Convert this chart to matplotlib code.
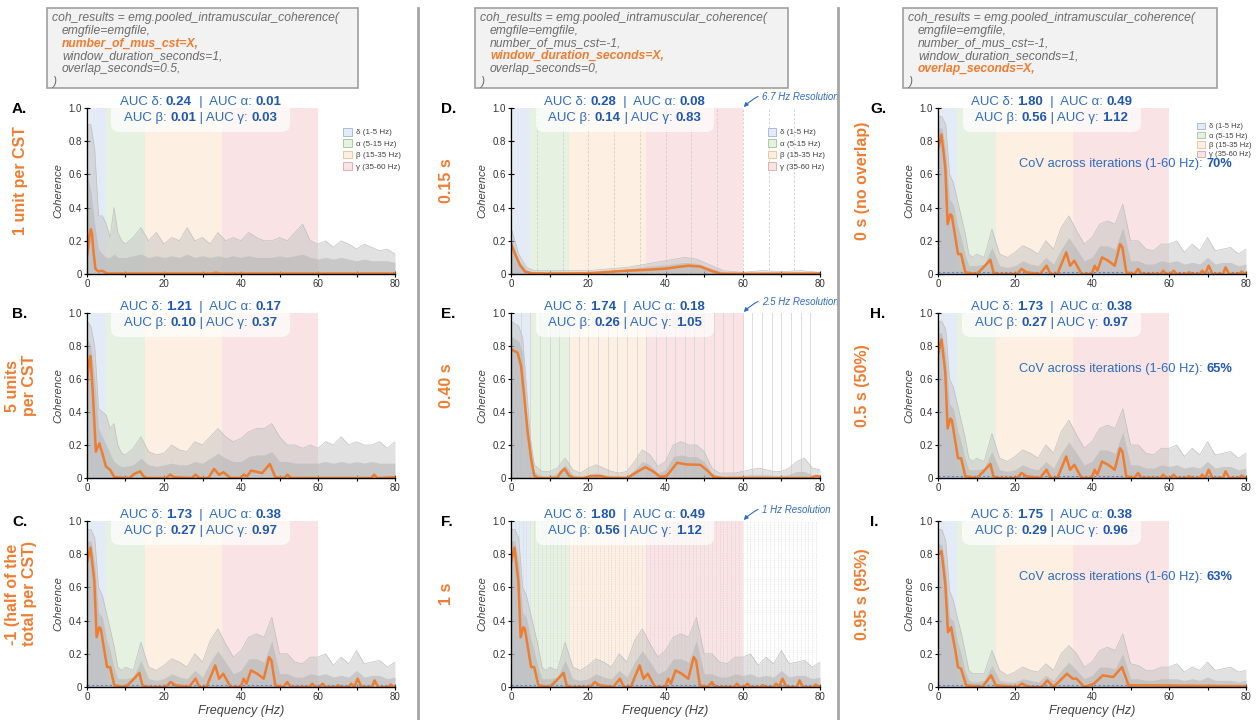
import numpy as np
import matplotlib.pyplot as plt
from matplotlib.patches import Rectangle, Patch
from matplotlib.offsetbox import TextArea, HPacker, VPacker, AnnotationBbox

plt.rcParams['font.family'] = ['Liberation Sans', 'DejaVu Sans']

# ---------------- data ----------------
band_spans = [(0.5, 5), (5, 15), (15, 35), (35, 60)]
band_labels = ['δ (1-5 Hz)', 'α (5-15 Hz)', 'β (15-35 Hz)', 'γ (35-60 Hz)']

# gray bundle grid (1 Hz up to 10, then 2 Hz)
grid_f = [0, 1, 2, 3, 4, 5, 6, 7, 8, 9, 10, 12, 14, 16, 18, 20, 22, 24, 26, 28, 30,
          32, 34, 36, 38, 40, 42, 44, 46, 48, 50, 52, 54, 56, 58, 60, 62, 64, 66, 68,
          70, 72, 74, 76, 78, 80]

# A: 1 unit per CST
A_hi = [0.90, 0.90, 0.75, 0.35, 0.35, 0.30, 0.22, 0.40, 0.25, 0.20, 0.18,
        0.22, 0.28, 0.20, 0.25, 0.18, 0.22, 0.20, 0.28, 0.20, 0.22,
        0.18, 0.25, 0.20, 0.22, 0.20, 0.25, 0.22, 0.20, 0.20, 0.22,
        0.20, 0.25, 0.30, 0.20, 0.18, 0.20, 0.16, 0.20, 0.18, 0.15,
        0.18, 0.16, 0.14, 0.15, 0.12]
A_core = [0.60, 0.50, 0.30, 0.15, 0.12, 0.10, 0.10, 0.12, 0.10, 0.10, 0.10,
          0.11, 0.12, 0.10, 0.11, 0.10, 0.11, 0.10, 0.12, 0.10, 0.11,
          0.10, 0.11, 0.10, 0.11, 0.10, 0.11, 0.10, 0.10, 0.10, 0.11,
          0.10, 0.11, 0.12, 0.10, 0.09, 0.10, 0.09, 0.10, 0.09, 0.08,
          0.09, 0.08, 0.08, 0.08, 0.07]
A_f = [0, 0.3, 0.7, 1.0, 1.3, 1.7, 2.2, 3.0, 3.9, 5.2, 32.5, 33.5, 34.5, 80]
A_mean = [0.11, 0.15, 0.24, 0.27, 0.24, 0.13, 0.03, 0.015, 0.02, 0.003, 0.003, 0.008, 0.003, 0.003]

# B: 5 units per CST
B_hi = [0.95, 0.92, 0.80, 0.42, 0.40, 0.38, 0.30, 0.33, 0.20, 0.15, 0.14,
        0.18, 0.25, 0.16, 0.14, 0.15, 0.20, 0.17, 0.16, 0.22, 0.20,
        0.25, 0.30, 0.25, 0.22, 0.24, 0.28, 0.30, 0.30, 0.33, 0.25,
        0.20, 0.20, 0.18, 0.20, 0.18, 0.22, 0.20, 0.25, 0.20, 0.22,
        0.20, 0.20, 0.22, 0.18, 0.22]
B_core = [0.85, 0.80, 0.60, 0.30, 0.25, 0.20, 0.15, 0.10, 0.08, 0.07, 0.07,
          0.08, 0.12, 0.08, 0.07, 0.08, 0.09, 0.08, 0.08, 0.10, 0.09,
          0.12, 0.15, 0.12, 0.10, 0.10, 0.13, 0.14, 0.14, 0.16, 0.10,
          0.10, 0.09, 0.09, 0.09, 0.09, 0.10, 0.09, 0.10, 0.09, 0.10,
          0.09, 0.10, 0.09, 0.09, 0.09]
B_f = [0, 0.5, 0.9, 1.5, 2.3, 3.2, 4.1, 4.9, 6.0, 7.1,
       11.0, 12.3, 13.8, 14.7, 15.5, 20.5, 21.6, 22.6, 27.2, 28.2,
       29.2, 31.5, 33.0, 34.3, 35.4, 37.3, 39.8, 40.7, 41.6, 42.6,
       45.5, 47.5, 48.9, 51.2, 52.1, 53.0, 73.8, 74.6, 75.4, 80]
B_mean = [0.58, 0.70, 0.74, 0.52, 0.16, 0.21, 0.14, 0.07, 0.05, 0.005,
          0.0, 0.025, 0.04, 0.01, 0.0, 0.0, 0.02, 0.005, 0.0, 0.02,
          0.0, 0.0, 0.055, 0.02, 0.035, 0.0, 0.0, 0.02, 0.01, 0.045,
          0.03, 0.085, 0.005, 0.0, 0.02, 0.0, 0.0, 0.02, 0.0, 0.005]

# 1 s window (C, F, G, H)
W1_hi = [0.95, 0.95, 0.90, 0.60, 0.55, 0.45, 0.35, 0.25, 0.12, 0.10, 0.12,
         0.10, 0.27, 0.12, 0.10, 0.13, 0.17, 0.15, 0.12, 0.20, 0.15,
         0.28, 0.35, 0.26, 0.18, 0.22, 0.30, 0.32, 0.30, 0.42, 0.20,
         0.20, 0.15, 0.14, 0.18, 0.18, 0.20, 0.13, 0.18, 0.14, 0.22,
         0.14, 0.15, 0.16, 0.12, 0.15]
W1_core = [0.88, 0.88, 0.75, 0.45, 0.42, 0.30, 0.22, 0.12, 0.05, 0.05, 0.05,
           0.06, 0.16, 0.05, 0.04, 0.05, 0.08, 0.06, 0.05, 0.10, 0.06,
           0.15, 0.22, 0.15, 0.08, 0.10, 0.17, 0.17, 0.15, 0.28, 0.08,
           0.08, 0.06, 0.06, 0.08, 0.07, 0.08, 0.06, 0.07, 0.06, 0.10,
           0.06, 0.07, 0.07, 0.05, 0.06]
W1_f = [0, 0.9, 1.9, 2.5, 3.2, 3.6, 4.5, 5.2, 6.0, 7.1,
        10.1, 11.8, 13.6, 14.4, 15.5, 20.5, 21.7, 23.0, 26.5, 28.2,
        29.2, 31.0, 33.3, 34.3, 35.4, 37.3, 39.9, 40.7, 41.4, 42.6,
        44.2, 45.9, 47.3, 47.9, 48.9, 51.0, 52.0, 52.9, 57.8, 58.5,
        59.2, 60.5, 61.2, 62.0, 64.5, 65.2, 66.0, 68.0, 68.6, 69.4,
        70.3, 71.3, 74.0, 74.7, 75.6, 78.3, 78.9, 79.6, 80]
W1_mean = [0.75, 0.84, 0.64, 0.30, 0.36, 0.35, 0.22, 0.12, 0.12, 0.01,
           0.0, 0.04, 0.085, 0.01, 0.0, 0.0, 0.03, 0.01, 0.0, 0.05,
           0.0, 0.0, 0.13, 0.05, 0.08, 0.0, 0.0, 0.05, 0.02, 0.10,
           0.08, 0.05, 0.18, 0.16, 0.01, 0.0, 0.03, 0.0, 0.0, 0.02,
           0.0, 0.0, 0.02, 0.0, 0.0, 0.01, 0.0, 0.0, 0.02, 0.0,
           0.05, 0.0, 0.0, 0.04, 0.0, 0.0, 0.015, 0.0, 0.005]

# D: 0.15 s window
D_gf = [0, 2, 4, 6, 10, 20, 25, 30, 35, 40, 45, 48, 52, 55, 60, 65, 70, 75, 80]
D_hi = [0.28, 0.12, 0.04, 0.02, 0.02, 0.02, 0.03, 0.04, 0.06, 0.08, 0.10, 0.09, 0.05,
        0.02, 0.01, 0.02, 0.015, 0.02, 0.01]
D_core = [0.22, 0.08, 0.025, 0.01, 0.01, 0.01, 0.02, 0.03, 0.045, 0.055, 0.07, 0.065,
          0.035, 0.01, 0.005, 0.01, 0.008, 0.01, 0.005]
D_f = [0, 1.0, 2.3, 3.6, 5.3, 10, 20, 25, 30, 35, 40, 43, 46, 49, 51.7, 54.3, 60, 70, 80]
D_mean = [0.18, 0.125, 0.055, 0.015, 0.004, 0.003, 0.004, 0.012, 0.02, 0.025, 0.032,
          0.042, 0.05, 0.045, 0.02, 0.002, 0.001, 0.002, 0.003]

# E: 0.40 s window
E_gf = [0, 2, 3, 4, 5, 6, 8, 10, 12, 14, 16, 18, 20, 22, 24, 26, 28, 30, 32, 34, 36,
        38, 40, 42, 44, 46, 48, 50, 52, 54, 56, 58, 60, 62, 64, 66, 68, 70, 72, 74,
        76, 78, 80]
E_hi = [0.95, 0.92, 0.85, 0.55, 0.25, 0.08,
        0.04, 0.04, 0.06, 0.12, 0.05, 0.03, 0.06, 0.08, 0.06, 0.04,
        0.03, 0.04, 0.10, 0.17, 0.14, 0.07, 0.10, 0.20, 0.22, 0.20,
        0.20, 0.16, 0.06, 0.03, 0.03, 0.03, 0.04, 0.05, 0.06, 0.05,
        0.04, 0.04, 0.06, 0.10, 0.12, 0.06, 0.05]
E_core = [0.86, 0.83, 0.76, 0.42, 0.18, 0.04,
          0.01, 0.01, 0.03, 0.08, 0.02, 0.01, 0.02, 0.03, 0.02, 0.01,
          0.01, 0.01, 0.05, 0.10, 0.08, 0.03, 0.05, 0.13, 0.14, 0.13,
          0.13, 0.10, 0.03, 0.01, 0.01, 0.01, 0.015, 0.02, 0.02, 0.02,
          0.015, 0.015, 0.02, 0.04, 0.04, 0.02, 0.02]
E_f = [0, 1.7, 2.6, 3.4, 4.3, 5.2, 6.0, 7.0, 12.0, 12.9,
       13.9, 15.0, 16.3, 19.0, 20.6, 23.2, 25.0, 30.1, 32.5, 34.8,
       36.8, 38.7, 40.4, 43.0, 45.6, 49.0, 50.8, 52.5, 55.0, 77.5,
       79.0, 80]
E_mean = [0.78, 0.76, 0.68, 0.50, 0.28, 0.12, 0.015, 0.0, 0.0, 0.035,
          0.056, 0.015, 0.0, 0.0, 0.012, 0.012, 0.002, 0.0, 0.035, 0.066,
          0.04, 0.006, 0.015, 0.092, 0.082, 0.08, 0.046, 0.006, 0.0, 0.0,
          0.012, 0.008]

# I: 0.95 s overlap
I_hi = [0.95, 0.95, 0.88, 0.58, 0.52, 0.42, 0.33, 0.22, 0.10, 0.08, 0.08,
        0.08, 0.22, 0.10, 0.07, 0.09, 0.12, 0.10, 0.09, 0.14, 0.10,
        0.20, 0.25, 0.20, 0.12, 0.15, 0.22, 0.24, 0.22, 0.32, 0.14,
        0.13, 0.10, 0.10, 0.12, 0.12, 0.14, 0.09, 0.12, 0.10, 0.15,
        0.10, 0.11, 0.12, 0.09, 0.10]
I_core = [0.86, 0.86, 0.72, 0.42, 0.40, 0.28, 0.20, 0.10, 0.04, 0.03, 0.03,
          0.04, 0.13, 0.04, 0.03, 0.03, 0.05, 0.04, 0.03, 0.07, 0.04,
          0.10, 0.15, 0.10, 0.05, 0.07, 0.12, 0.12, 0.11, 0.20, 0.05,
          0.05, 0.04, 0.04, 0.05, 0.05, 0.05, 0.04, 0.05, 0.04, 0.06,
          0.04, 0.04, 0.04, 0.03, 0.04]
I_f = [0, 0.9, 1.9, 2.6, 3.4, 4.5, 5.2, 6.0, 7.3, 11.5, 13.8, 15.0, 20.5, 21.8, 23.5,
       27.0, 28.4, 30.0, 33.5, 35.0, 36.0, 38.0, 40.5, 42.8, 45.5, 47.8, 49.5, 52.0, 80]
I_mean = [0.80, 0.82, 0.62, 0.33, 0.36, 0.22, 0.12, 0.11, 0.01, 0.0, 0.07, 0.01, 0.0,
          0.02, 0.0, 0.0, 0.04, 0.0, 0.08, 0.05, 0.05, 0.0, 0.02, 0.07, 0.06, 0.12,
          0.01, 0.01, 0.005]

auc_A = [0.24, 0.01, 0.01, 0.03]
auc_B = [1.21, 0.17, 0.10, 0.37]
auc_C = [1.73, 0.38, 0.27, 0.97]
auc_D = [0.28, 0.08, 0.14, 0.83]
auc_E = [1.74, 0.18, 0.26, 1.05]
auc_F = [1.80, 0.49, 0.56, 1.12]
auc_G = [1.80, 0.49, 0.56, 1.12]
auc_H = [1.73, 0.38, 0.27, 0.97]
auc_I = [1.75, 0.38, 0.29, 0.96]

cov_values = ['70%', '65%', '63%']
resolutions = [20 / 3, 2.5, 1.0]
resolution_labels = ['6.7 Hz Resolution', '2.5 Hz Resolution', '1 Hz Resolution']

panel_letters = ['A.', 'B.', 'C.', 'D.', 'E.', 'F.', 'G.', 'H.', 'I.']
row_labels = ['1 unit per CST', '5 units\nper CST', '-1 (half of the\ntotal per CST)',
              '0.15 s', '0.40 s', '1 s',
              '0 s (no overlap)', '0.5 s (50%)', '0.95 s (95%)']

code_head = 'coh_results = emg.pooled_intramuscular_coherence('
code_cols = [
    ['emgfile=emgfile,', 'number_of_mus_cst=X,', 'window_duration_seconds=1,', 'overlap_seconds=0.5,'],
    ['emgfile=emgfile,', 'number_of_mus_cst=-1,', 'window_duration_seconds=X,', 'overlap_seconds=0,'],
    ['emgfile=emgfile,', 'number_of_mus_cst=-1,', 'window_duration_seconds=1,', 'overlap_seconds=X,'],
]
code_highlight = [1, 2, 3]

# ---------------- style ----------------
ORANGE = '#ed7d31'
BLUE = '#2f6cc0'
BLUE_B = '#1f58ad'
band_colors = ['#e3ebf7', '#e6f1e1', '#fdefe2', '#f9e3e4']
band_edges = ['#9fb2d3', '#9fc396', '#e9bf98', '#d9a7aa']

W, H = 1258, 720
fig = plt.figure(figsize=(W / 100, H / 100), dpi=100)

COLS = [(87, 395), (511, 820), (938, 1246)]
ROWS = [(108, 274), (313, 478), (521, 687)]
BOXES = [(47, 358), (475, 788), (903, 1217)]
LETTER_X = [12, 441, 870]
LABEL_X = [21, 446, 863]


def fx(px):
    return px / W


def fy(py):
    return 1 - py / H


panels = [
    (grid_f, A_hi, A_core, A_f, A_mean, auc_A),
    (grid_f, B_hi, B_core, B_f, B_mean, auc_B),
    (grid_f, W1_hi, W1_core, W1_f, W1_mean, auc_C),
    (D_gf, D_hi, D_core, D_f, D_mean, auc_D),
    (E_gf, E_hi, E_core, E_f, E_mean, auc_E),
    (grid_f, W1_hi, W1_core, W1_f, W1_mean, auc_F),
    (grid_f, W1_hi, W1_core, W1_f, W1_mean, auc_G),
    (grid_f, W1_hi, W1_core, W1_f, W1_mean, auc_H),
    (grid_f, I_hi, I_core, I_f, I_mean, auc_I),
]


def auc_box(ax, vals):
    tp = dict(color=BLUE, size=9.5)
    tb = dict(color=BLUE_B, size=9.5, weight='bold')
    l1 = HPacker(children=[TextArea('AUC δ: ', textprops=tp), TextArea(f'{vals[0]:.2f}', textprops=tb),
                           TextArea('  |  AUC α: ', textprops=tp), TextArea(f'{vals[1]:.2f}', textprops=tb)],
                 pad=0, sep=0)
    l2 = HPacker(children=[TextArea('AUC β: ', textprops=tp), TextArea(f'{vals[2]:.2f}', textprops=tb),
                           TextArea(' | AUC γ: ', textprops=tp), TextArea(f'{vals[3]:.2f}', textprops=tb)],
                 pad=0, sep=0)
    box = VPacker(children=[l1, l2], align='center', pad=0, sep=3)
    ab = AnnotationBbox(box, (29.5, 0.99), xycoords=('data', 'axes fraction'),
                        frameon=True, box_alignment=(0.5, 0.5), annotation_clip=False,
                        bboxprops=dict(facecolor='white', edgecolor='none', alpha=0.7,
                                       boxstyle='round,pad=0.6'), zorder=6)
    ax.add_artist(ab)


for i, (gf, ghi, gcore, mf, mv, auc) in enumerate(panels):
    c, r = divmod(i, 3)
    x0, x1 = COLS[c]
    y0, y1 = ROWS[r]
    ax = fig.add_axes([fx(x0), fy(y1), (x1 - x0) / W, (y1 - y0) / H])
    ax.set_xlim(0, 80)
    ax.set_ylim(0, 1.0)

    for (a, b), col in zip(band_spans, band_colors):
        ax.axvspan(a, b, color=col, lw=0, zorder=0)

    if c == 1:
        res = resolutions[r]
        k = 1
        while k * res <= 80.01:
            if r == 0:
                ax.axvline(k * res, color='#cfcfcf', lw=0.6, ls=(0, (3, 2)), zorder=1)
            elif r == 1:
                ax.axvline(k * res, color='#d6d6d6', lw=0.6, zorder=1)
            else:
                ax.axvline(k * res, color='#cccccc', lw=0.5, ls=(0, (1, 1.5)), zorder=1)
            k += 1

    ax.fill_between(gf, 0, ghi, color='#c4c4c4', alpha=0.5, lw=0, zorder=2)
    ax.plot(gf, ghi, color='#c0c0c0', lw=0.5, zorder=2)
    ax.fill_between(gf, 0, gcore, color='#b4b4b4', alpha=0.55, lw=0, zorder=2)

    if c == 1 and r < 2:
        ax.axhline(0.003, color='#1f3b70', lw=0.8, ls=(0, (3, 2)), zorder=3)
    elif not (c == 0 and r < 2):
        ax.axhline(0.01, color='#5b8bd6', lw=0.8, ls=(0, (2, 2)), zorder=3)

    ax.plot(mf, mv, color=ORANGE, lw=1.8, zorder=4, clip_on=True)

    for s in ['top', 'right']:
        ax.spines[s].set_visible(False)
    for s in ['left', 'bottom']:
        ax.spines[s].set_color('black')
        ax.spines[s].set_linewidth(1.0)
        ax.spines[s].set_zorder(5)
    ax.set_xticks([0, 20, 40, 60, 80])
    ax.set_xticks([10, 30, 50, 70], minor=True)
    ax.set_yticks([0, 0.2, 0.4, 0.6, 0.8, 1.0])
    ax.set_yticklabels(['0', '0.2', '0.4', '0.6', '0.8', '1.0'])
    ax.tick_params(which='both', direction='inout', length=4, width=0.8, labelsize=7,
                   labelcolor='#333333', pad=1.5)
    ax.set_ylabel('Coherence', fontsize=8, style='italic', color='#404040', labelpad=4)
    if r == 2:
        ax.set_xlabel('Frequency (Hz)', fontsize=9, style='italic', color='#404040', labelpad=2)

    auc_box(ax, auc)

    if r == 0:
        handles = [Patch(facecolor=fc, edgecolor=ec, lw=0.6) for fc, ec in zip(band_colors, band_edges)]
        if c == 2:
            leg = ax.legend(handles, band_labels, loc='upper left', bbox_to_anchor=(0.83, 0.93),
                            frameon=False, fontsize=5.5, handlelength=1.1, handleheight=0.9,
                            handletextpad=0.5, labelspacing=0.2, borderaxespad=0)
        else:
            leg = ax.legend(handles, band_labels, loc='upper left', bbox_to_anchor=(0.82, 0.9),
                            frameon=False, fontsize=5.8, handlelength=1.1, handleheight=1.1,
                            handletextpad=0.5, labelspacing=0.35, borderaxespad=0)
        for t in leg.get_texts():
            t.set_color('#404040')
        leg.set_zorder(6)

    if c == 1:
        ax.annotate(resolution_labels[r], xy=(60, 1.0), xycoords='data',
                    xytext=(fx(x0 + 251), fy(y0 - 11)), textcoords='figure fraction',
                    fontsize=7, style='italic', color=BLUE, ha='left', va='center',
                    annotation_clip=False, zorder=7,
                    arrowprops=dict(arrowstyle='-|>', color=BLUE, lw=0.8, mutation_scale=6,
                                    connectionstyle='arc3,rad=0.35', shrinkA=1, shrinkB=1))

    if c == 2:
        cov = HPacker(children=[TextArea('CoV across iterations (1-60 Hz): ', textprops=dict(color=BLUE, size=9.3)),
                                TextArea(cov_values[r], textprops=dict(color=BLUE_B, size=9.3, weight='bold'))],
                      pad=0, sep=0)
        ab = AnnotationBbox(cov, (0.61, 0.66), xycoords='axes fraction', frameon=False,
                            box_alignment=(0.5, 0.5), zorder=7)
        ax.add_artist(ab)

    fig.text(fx(LETTER_X[c]), fy(y0 + 1), panel_letters[i], fontsize=11, weight='bold',
             ha='left', va='center', color='black')
    fig.text(fx(LABEL_X[c]), fy((y0 + y1) / 2 - 10), row_labels[i], fontsize=11.5, weight='bold',
             color=ORANGE, rotation=90, ha='center', va='center', multialignment='center',
             linespacing=1.1)

# code boxes
line_y = [18, 31, 43.5, 56, 69, 82]
for c, (bx0, bx1) in enumerate(BOXES):
    fig.add_artist(Rectangle((fx(bx0), fy(88)), (bx1 - bx0) / W, 80 / H, transform=fig.transFigure,
                             facecolor='#f2f2f2', edgecolor='#a0a0a0', lw=1.2))
    fig.text(fx(bx0 + 5), fy(line_y[0]), code_head, fontsize=8.7, style='italic', color='#6b6b6b',
             ha='left', va='center')
    for j, line in enumerate(code_cols[c]):
        hl = (j == code_highlight[c])
        fig.text(fx(bx0 + 15), fy(line_y[j + 1]), line, fontsize=8.7, style='italic',
                 color=ORANGE if hl else '#6b6b6b', weight='bold' if hl else 'normal',
                 ha='left', va='center')
    fig.text(fx(bx0 + 5), fy(line_y[5]), ')', fontsize=8.7, style='italic', color='#6b6b6b',
             ha='left', va='center')

# column separators
for sx in [418, 838]:
    fig.add_artist(plt.Line2D([fx(sx), fx(sx)], [fy(8), fy(720)], transform=fig.transFigure,
                              color='#a6a6a6', lw=2))

fig.savefig('out.png', dpi=100)
